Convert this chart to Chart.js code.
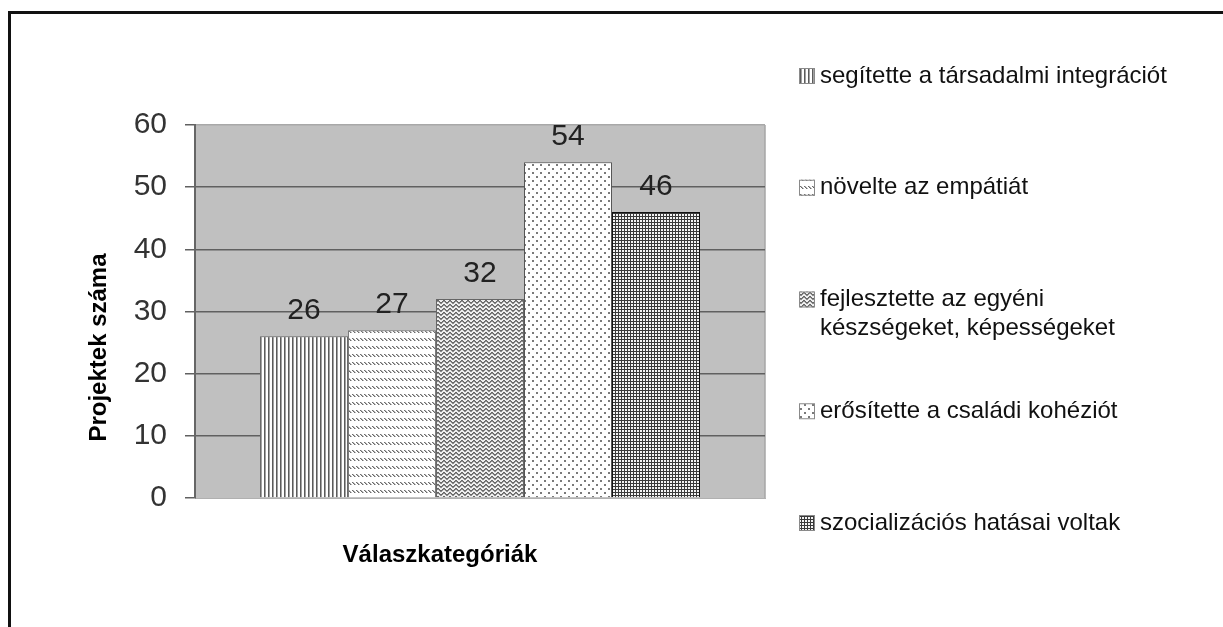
<!DOCTYPE html>
<html>
<head>
<meta charset="utf-8">
<title>Projektek száma</title>
<script src="https://cdn.jsdelivr.net/npm/chart.js@4.4.0/dist/chart.umd.min.js"></script>
<style>
html, body { margin: 0; background: #fff; overflow: hidden; width: 1223px; height: 627px; }
#frame { position: absolute; left: 8px; top: 11px; width: 1212px; height: 613px; border-top: 3px solid #111; border-left: 3px solid #111; }
#wrap { position: absolute; left: 0; top: 0; width: 1223px; height: 627px; }
</style>
</head>
<body>
<div id="frame"></div>
<div id="wrap"><canvas id="myChart" width="1223" height="627"></canvas></div>
<script>
var categories = [
  'segítette a társadalmi integrációt',
  'növelte az empátiát',
  'fejlesztette az egyéni készségeket, képességeket',
  'erősítette a családi kohéziót',
  'szocializációs hatásai voltak'
];
var values = [26, 27, 32, 54, 46];
var yTicks = [0, 10, 20, 30, 40, 50, 60];
var yTitle = 'Projektek száma';
var xTitle = 'Válaszkategóriák';

var fontFamily = '"Liberation Sans", Arial, sans-serif';
var patternNames = ['vertical', 'dashedDiagonal', 'wave', 'dots', 'grid'];
var borderColors = ['#6a6a6a', '#7a7a7a', '#666666', '#555555', '#111111'];

// small tiles for the excel-like fill patterns
function makeTile(name) {
  var c = document.createElement('canvas');
  var g = c.getContext('2d');
  function px(x, y, col) { g.fillStyle = col; g.fillRect(x, y, 1, 1); }
  if (name == 'vertical') {
    c.width = 4; c.height = 4;
    g.fillStyle = '#fff'; g.fillRect(0, 0, 4, 4);
    g.fillStyle = '#5c5c5c'; g.fillRect(0, 0, 1, 4);
    g.fillStyle = '#a2a2a2'; g.fillRect(1, 0, 1, 4);
  } else if (name == 'dashedDiagonal') {
    c.width = 4; c.height = 8;
    g.fillStyle = '#fff'; g.fillRect(0, 0, 4, 8);
    px(0, 2, '#6e6e6e'); px(1, 3, '#666'); px(2, 4, '#6e6e6e');
    px(1, 2, '#b8b8b8'); px(2, 3, '#b0b0b0'); px(3, 4, '#b8b8b8');
  } else if (name == 'wave') {
    c.width = 6; c.height = 4;
    g.fillStyle = '#eeeeee'; g.fillRect(0, 0, 6, 4);
    var ys = [0, 1, 2, 2, 1, 0];
    for (var x = 0; x < 6; x++) {
      px(x, ys[x], '#666');
      px(x, (ys[x] + 1) % 4, '#8a8a8a');
    }
  } else if (name == 'dots') {
    c.width = 8; c.height = 8;
    g.fillStyle = '#fff'; g.fillRect(0, 0, 8, 8);
    g.fillStyle = '#7a7a7a'; g.fillRect(0, 0, 2, 2); g.fillRect(4, 4, 2, 2);
  } else {
    c.width = 3; c.height = 3;
    g.fillStyle = '#f4f4f4'; g.fillRect(0, 0, 3, 3);
    g.fillStyle = '#3a3a3a'; g.fillRect(0, 0, 3, 1); g.fillRect(0, 0, 1, 3);
  }
  return c;
}

var ctx = document.getElementById('myChart').getContext('2d');
var patterns = patternNames.map(function (n) {
  return ctx.createPattern(makeTile(n), 'repeat');
});

var plotBackground = {
  id: 'plotBackground',
  beforeDraw: function (chart) {
    var a = chart.chartArea, c = chart.ctx;
    c.save();
    c.fillStyle = '#c0c0c0';
    c.fillRect(a.left, a.top, a.right - a.left, a.bottom - a.top);
    c.strokeStyle = '#a6a6a6';
    c.lineWidth = 1.5;
    c.beginPath();
    c.moveTo(a.right, a.top);
    c.lineTo(a.right, a.bottom);
    c.stroke();
    c.restore();
  }
};

var valueLabels = {
  id: 'valueLabels',
  afterDatasetsDraw: function (chart) {
    var c = chart.ctx;
    c.save();
    c.font = '30px ' + fontFamily;
    c.fillStyle = '#222';
    c.textAlign = 'center';
    c.textBaseline = 'alphabetic';
    chart.data.datasets.forEach(function (ds, i) {
      var bar = chart.getDatasetMeta(i).data[0];
      c.fillText(ds.data[0], bar.x, bar.y - 17);
    });
    c.restore();
  }
};

function wrapText(c, text, maxWidth) {
  var words = text.split(' ');
  var lines = [];
  var line = '';
  for (var i = 0; i < words.length; i++) {
    var test = line ? line + ' ' + words[i] : words[i];
    if (line && c.measureText(test).width > maxWidth) {
      lines.push(line);
      line = words[i];
    } else {
      line = test;
    }
  }
  lines.push(line);
  return lines;
}

var sideLegend = {
  id: 'sideLegend',
  afterDraw: function (chart) {
    var c = chart.ctx;
    var a = chart.chartArea;
    var boxX = a.right + 34;
    var textX = boxX + 21;
    var top = 76;
    var step = 111.75;
    c.save();
    c.font = '24px ' + fontFamily;
    c.textBaseline = 'middle';
    c.textAlign = 'left';
    chart.data.datasets.forEach(function (ds, i) {
      var y = top + i * step;
      c.fillStyle = ds.backgroundColor;
      c.fillRect(boxX, y - 8, 16, 16);
      c.strokeStyle = '#8a8a8a';
      c.lineWidth = 1;
      c.strokeRect(boxX + 0.5, y - 7.5, 15, 15);
      c.fillStyle = '#111';
      var lines = wrapText(c, ds.label, 360);
      lines.forEach(function (ln, j) {
        c.fillText(ln, textX, y + j * 29);
      });
    });
    c.restore();
  }
};

var axisTitles = {
  id: 'axisTitles',
  afterDraw: function (chart) {
    var c = chart.ctx;
    var a = chart.chartArea;
    c.save();
    c.font = 'bold 24px ' + fontFamily;
    c.fillStyle = '#000';
    c.textAlign = 'center';
    c.textBaseline = 'middle';
    c.fillText(xTitle, (a.left + a.right) / 2 - 40, a.bottom + 57);
    c.translate(a.left - 96, (a.top + a.bottom) / 2 + 36);
    c.rotate(-Math.PI / 2);
    c.fillText(yTitle, 0, 0);
    c.restore();
  }
};

var myChart = new Chart(ctx, {
  type: 'bar',
  data: {
    labels: [''],
    datasets: categories.map(function (cat, i) {
      return {
        label: cat,
        data: [values[i]],
        backgroundColor: patterns[i],
        borderColor: borderColors[i],
        borderWidth: 1,
        categoryPercentage: 0.772,
        barPercentage: 1
      };
    })
  },
  options: {
    responsive: false,
    devicePixelRatio: 1,
    animation: false,
    layout: {
      padding: { left: 0, top: 125, right: 458, bottom: 121 }
    },
    plugins: {
      legend: { display: false },
      tooltip: { enabled: false }
    },
    scales: {
      x: {
        grid: { display: false },
        ticks: { display: false },
        border: { color: '#b0b0b0', width: 1 }
      },
      y: {
        min: 0,
        max: 60,
        afterBuildTicks: function (scale) {
          scale.ticks = yTicks.map(function (v) { return { value: v }; });
        },
        afterFit: function (scale) {
          scale.width = 195;
        },
        ticks: {
          font: { family: fontFamily, size: 30 },
          color: '#333',
          padding: 18
        },
        grid: {
          color: function (c) {
            if (c.tick && c.tick.value === 60) return '#a8a8a8';
            if (c.tick && c.tick.value === 0) return 'rgba(0,0,0,0)';
            return '#606060';
          },
          tickColor: '#606060',
          tickLength: 10,
          lineWidth: 1.5
        },
        border: { color: '#666', width: 2 }
      }
    }
  },
  plugins: [plotBackground, valueLabels, sideLegend, axisTitles]
});
</script>
</body>
</html>
